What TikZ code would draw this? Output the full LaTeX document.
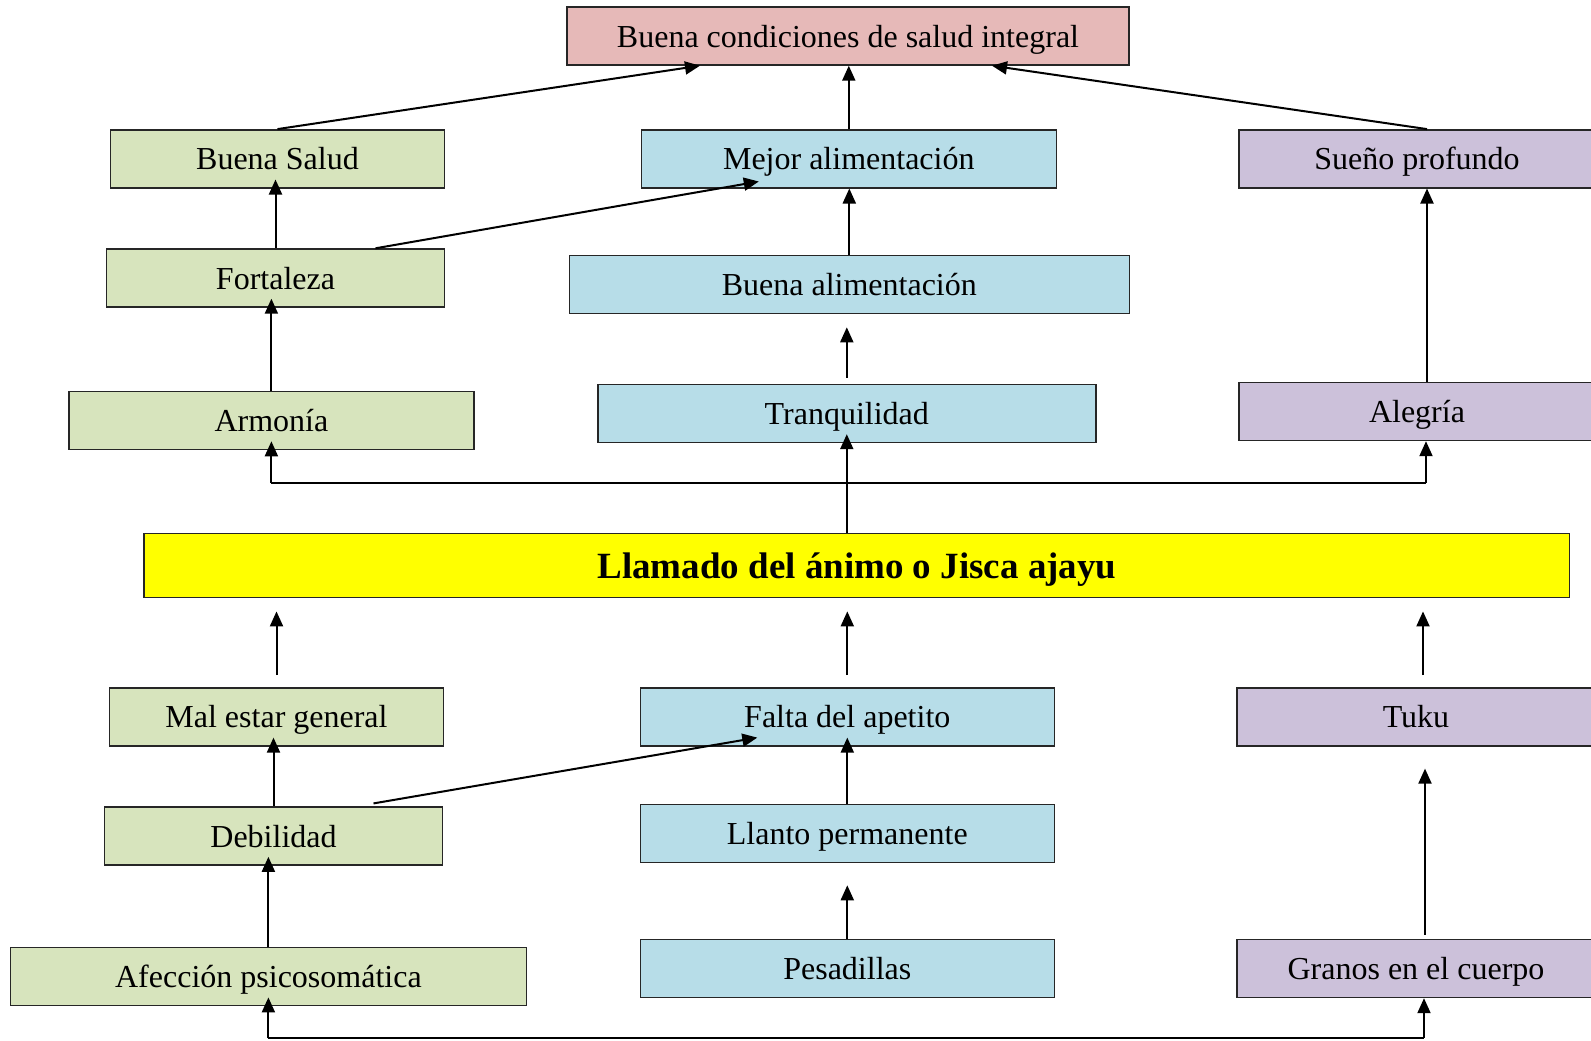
\documentclass[tikz,border=0pt]{standalone}
\usepackage{fontspec}
\setmainfont{Liberation Serif}
\usetikzlibrary{arrows.meta}
\usetikzlibrary{calc}
\definecolor{boxgreen}{HTML}{D7E4BD}
\definecolor{boxblue}{HTML}{B7DDE8}
\definecolor{boxlilac}{HTML}{CCC1DA}
\definecolor{boxpink}{HTML}{E6B9B8}
\definecolor{boxyellow}{RGB}{255,255,0}
\tikzset{
  box/.style={rectangle, draw=black!85, line width=0.7pt, inner sep=0pt, minimum height=29pt, text height=11pt, text depth=0pt, font=\fontsize{16}{19}\selectfont},
  arr/.style={line width=1pt, -{Triangle[length=7.5pt, width=6.5pt]}},
  into/.style={arr, shorten >=-4.5pt},
}

\begin{document}
\begin{tikzpicture}[x=0.5pt, y=-0.5pt]
      \useasboundingbox (0,0) rectangle (1591,1040);
      \clip (0,0) rectangle (1591,1040);

      \node[box, fill=boxpink, minimum width=281pt] (top) at (848,36) {Buena condiciones de salud integral};

      \node[box, fill=boxgreen, minimum width=167pt] (bs) at (277.5,158.8) {Buena Salud};
      \node[box, fill=boxblue, minimum width=207.5pt] (mej) at (848.8,158.8) {Mejor alimentación};
      \node[box, fill=boxlilac, minimum width=178pt] (sue) at (1417,158.8) {Sueño profundo};
      \node[box, fill=boxgreen, minimum width=169pt] (fort) at (275.5,278) {Fortaleza};
      \node[box, fill=boxblue, minimum width=280pt] (balim) at (849.3,284.6) {Buena alimentación};
      \node[box, fill=boxgreen, minimum width=202.5pt] (arm) at (271.4,420.6) {Armonía};
      \node[box, fill=boxblue, minimum width=249pt] (tranq) at (846.8,413.5) {Tranquilidad};
      \node[box, fill=boxlilac, minimum width=178pt] (ale) at (1417,411.5) {Alegría};

      \node[box, fill=boxyellow, minimum width=712.8pt, minimum height=32pt, text height=12.5pt, font=\bfseries\fontsize{18.5}{22}\selectfont] (yel) at (856.9,565.7) {Llamado del ánimo o Jisca ajayu};

      \node[box, fill=boxgreen, minimum width=167pt] (mal) at (276.5,716.9) {Mal estar general};
      \node[box, fill=boxblue, minimum width=207pt] (falta) at (847.3,716.9) {Falta del apetito};
      \node[box, fill=boxlilac, minimum width=179pt] (tuku) at (1416,716.9) {Tuku};
      \node[box, fill=boxgreen, minimum width=169pt] (deb) at (273.5,836.1) {Debilidad};
      \node[box, fill=boxblue, minimum width=207pt] (llanto) at (847.3,833.6) {Llanto permanente};
      \node[box, fill=boxgreen, minimum width=258pt] (afe) at (268.4,976.7) {Afección psicosomática};
      \node[box, fill=boxblue, minimum width=207pt] (pes) at (847.3,968.5) {Pesadillas};
      \node[box, fill=boxlilac, minimum width=179pt] (gra) at (1416,968.5) {Granos en el cuerpo};

      \draw[arr] (bs.north) -- ($(top.south)+(-148,0)$);
      \draw[arr] (mej.north) -- (mej.north |- top.south);
      \draw[arr] ($(sue.north)+(10,0)$) -- ($(top.south)+(144,0)$);
      \draw[into] (fort.north) -- (fort.north |- bs.south);
      \draw[arr] ($(fort.north)+(100,0)$) -- ($(mej.south)+(-90,-7)$);
      \draw[arr] (balim.north) -- (balim.north |- mej.south);
      \draw[arr] ([yshift=3pt]tranq.north) -- ([yshift=-6.5pt]tranq.north |- balim.south);
      \draw[into] (arm.north) -- (arm.north |- fort.south);
      \draw[arr] ($(ale.north)+(10,0)$) -- ($(sue.south)+(10,0)$);

      \coordinate (up) at ($(yel.north)+(0,-50)$);
      \draw[into] (tranq.south |- yel.north) -- (tranq.south);
      \draw[line width=1pt] (up -| arm.south) -- ($(up -| ale.south)+(9,0)$);
      \draw[into] (up -| arm.south) -- (arm.south);
      \draw[arr] ($(up -| ale.south)+(9,0)$) -- ($(ale.south)+(9,0)$);

      \draw[arr] ([yshift=6pt]mal.north) -- ([yshift=-6.5pt]mal.north |- yel.south);
      \draw[arr] ([yshift=6pt]falta.north) -- ([yshift=-6.5pt]falta.north |- yel.south);
      \draw[arr] ([yshift=6pt,xshift=3.5pt]tuku.north) -- ([yshift=-6.5pt,xshift=3.5pt]tuku.north |- yel.south);

      \draw[into] (deb.north) -- (deb.north |- mal.south);
      \draw[arr] ($(deb.north)+(100,-3)$) -- ($(falta.south)+(-90,-9)$);
      \draw[into] (llanto.north) -- (falta.south);
      \draw[arr] (pes.north) -- ([yshift=-11pt]llanto.south);
      \draw[into] (afe.north) -- (afe.north |- deb.south);
      \draw[arr] ([yshift=2pt,xshift=4.5pt]gra.north) -- ([yshift=-11pt,xshift=4.5pt]tuku.south);

      \coordinate (dn) at ($(afe.south)+(0,32)$);
      \draw[line width=1pt] (dn) -- ($(dn -| gra.south)+(8,0)$);
      \draw[into] (dn) -- (afe.south);
      \draw[arr] ($(dn -| gra.south)+(8,0)$) -- ($(gra.south)+(8,0)$);
    \end{tikzpicture}
\end{document}
